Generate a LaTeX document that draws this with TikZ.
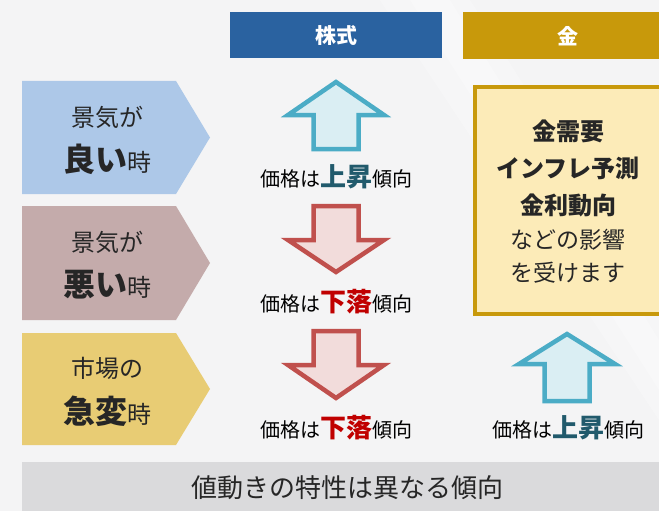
\documentclass[tikz,border=0pt]{standalone}
\usepackage{fontspec}
\setmainfont{Noto Sans CJK JP}
\definecolor{bgc}{HTML}{F4F4F5}
\definecolor{hdrblue}{HTML}{2A62A0}
\definecolor{hdrgold}{HTML}{C8990B}
\definecolor{pentblue}{HTML}{ADC8E8}
\definecolor{pentmauve}{HTML}{C4ABAB}
\definecolor{pentgold}{HTML}{E8CC74}
\definecolor{upline}{HTML}{4BACC6}
\definecolor{upfill}{HTML}{DAEEF3}
\definecolor{dnline}{HTML}{C0504D}
\definecolor{dnfill}{HTML}{F2DCDB}
\definecolor{upword}{HTML}{215A6C}
\definecolor{dnword}{HTML}{C00000}
\definecolor{goldfill}{HTML}{FCEBB8}
\definecolor{barfill}{HTML}{DADADC}
\definecolor{txt}{HTML}{262626}
\newcommand\UpArr[4]{% cx, tip, base, bottom
  \draw[arrowline] (#1-22.5,#4) -- (#1-22.5,#3) -- (#1-48,#3) -- (#1,#2) -- (#1+48,#3) -- (#1+22.5,#3) -- (#1+22.5,#4) -- cycle;}
\newcommand\DnArr[4]{% cx, top, base, tip
  \draw[arrowline] (#1-22.5,#2) -- (#1-22.5,#3) -- (#1-48,#3) -- (#1,#4) -- (#1+48,#3) -- (#1+22.5,#3) -- (#1+22.5,#2) -- cycle;}
\newcommand\Pent[3]{% top, bottom, color
  \fill[#3] (22,#1) -- (176,#1) -- (210,{(#1+#2)/2}) -- (176,#2) -- (22,#2) -- cycle;}
\newcommand\PriceUp{{\fontsize{20}{24}\selectfont 価格は}{\fontsize{26}{30}\selectfont\bfseries\color{upword}上昇}{\fontsize{20}{24}\selectfont 傾向}}
\newcommand\PriceDn{{\fontsize{20}{24}\selectfont 価格は}{\fontsize{26}{30}\selectfont\bfseries\color{dnword}下落}{\fontsize{20}{24}\selectfont 傾向}}
\begin{document}
\begin{tikzpicture}[x=1pt,y=-1pt,
  hdr/.style={text=white,font=\fontsize{21}{24}\selectfont\bfseries,inner sep=0pt},
  penttext/.style={text=txt,inner sep=0pt,align=center},
  price/.style={text=black,inner sep=0pt},
  arrowline/.style={line width=4.5pt,miter limit=10},
  goldtxt/.style={text=txt,inner sep=0pt}]
\useasboundingbox (0,0) rectangle (659,511);
\fill[bgc] (0,0) rectangle (659,511);
\fill[white,opacity=0.25] (380,0) -- (470,0) -- (659,300) -- (659,420) -- cycle;
\fill[white,opacity=0.25] (410,0) -- (450,0) -- (659,340) -- (659,390) -- cycle;
% headers
\fill[hdrblue] (230,12) rectangle (442,58);
\node[hdr] (hs) at (336,35) {株式};
\fill[hdrgold] (463,12) rectangle (659,59);
\node[hdr] (hg) at (568,36) {金};
% pentagons
\Pent{81}{194}{pentblue}
\Pent{206}{320}{pentmauve}
\Pent{333}{445}{pentgold}
\node[penttext,font=\fontsize{24}{28}\selectfont] (p1a) at (107,117) {景気が};
\node[penttext] (p1b) at (107,159) {{\fontsize{32}{36}\selectfont\bfseries 良い}{\fontsize{24}{28}\selectfont 時}};
\node[penttext,font=\fontsize{24}{28}\selectfont] (p2a) at (107,242) {景気が};
\node[penttext] (p2b) at (107,285) {{\fontsize{32}{36}\selectfont\bfseries 悪い}{\fontsize{24}{28}\selectfont 時}};
\node[penttext,font=\fontsize{24}{28}\selectfont] (p3a) at (107,368) {市場の};
\node[penttext] (p3b) at (107,411) {{\fontsize{32}{36}\selectfont\bfseries 急変}{\fontsize{24}{28}\selectfont 時}};
% arrows
\begin{scope}[arrowline/.append style={draw=upline,fill=upfill}]
\UpArr{336}{82}{115}{149}
\UpArr{567}{334}{364}{401}
\end{scope}
\begin{scope}[arrowline/.append style={draw=dnline,fill=dnfill}]
\DnArr{336}{206}{240}{272}
\DnArr{336}{331}{365}{398}
\end{scope}
% price texts
\node[price] (t1) at (336,177) {\PriceUp};
\node[price] (t2) at (336,302) {\PriceDn};
\node[price] (t3) at (336,428) {\PriceDn};
\node[price] (t4) at (568,428) {\PriceUp};
% gold box
\draw[line width=4pt,draw=hdrgold,fill=goldfill] (475,87) rectangle (664,314);
\node[goldtxt,font=\fontsize{24}{28}\selectfont\bfseries] (g1) at (568,131) {金需要};
\node[goldtxt,font=\fontsize{24}{28}\selectfont\bfseries] (g2) at (568,168) {インフレ予測};
\node[goldtxt,font=\fontsize{24}{28}\selectfont\bfseries] (g3) at (568,205) {金利動向};
\node[goldtxt,font=\fontsize{23}{26}\selectfont] (g4) at (568,240) {などの影響};
\node[goldtxt,font=\fontsize{23}{26}\selectfont] (g5) at (568,273) {を受けます};
% bottom bar
\fill[barfill] (22,462) rectangle (659,511);
\node[text=txt,inner sep=0pt,font=\fontsize{26}{30}\selectfont] (bt) at (347,488) {値動きの特性は異なる傾向};
\end{tikzpicture}
\end{document}
